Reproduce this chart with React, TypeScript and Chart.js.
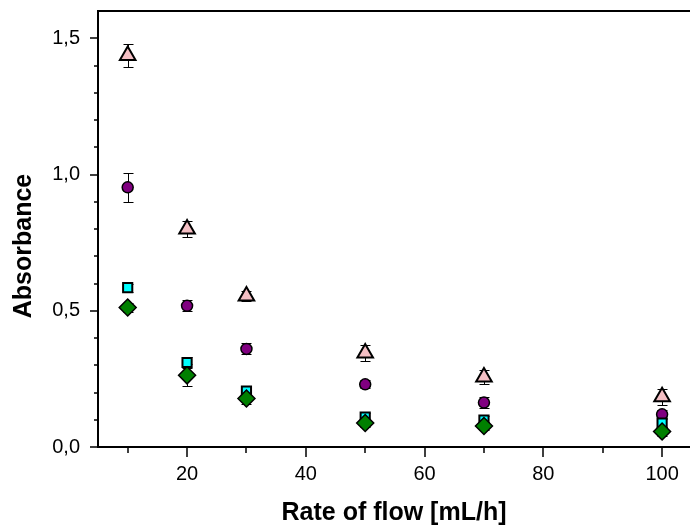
import { useEffect, useRef } from "react";
import { Chart, registerables } from "chart.js";

Chart.register(...registerables);

// ---- data ----
const flowRates = [10, 20, 30, 50, 70, 100];

const triangleValues = [1.437, 0.8, 0.554, 0.345, 0.257, 0.184];
const triangleErrors = [0.042, 0.03, 0.02, 0.03, 0.025, 0.03];

const circleValues = [0.953, 0.518, 0.36, 0.23, 0.163, 0.12];
const circleErrors = [0.053, 0.02, 0.02, 0.015, 0.02, 0.015];

const squareValues = [0.585, 0.31, 0.205, 0.11, 0.099, 0.088];
const squareErrors = [0.015, 0.02, 0.015, 0.015, 0.015, 0.015];

const diamondValues = [0.512, 0.263, 0.178, 0.088, 0.077, 0.057];
const diamondErrors = [0.015, 0.04, 0.02, 0.015, 0.015, 0.015];

const xMajorTicks = [20, 40, 60, 80, 100];
const xMinorTicks = [10, 30, 50, 70, 90];
const yMajorTicks = [0, 0.5, 1.0, 1.5];
const yMinorTicks = [0.1, 0.2, 0.3, 0.4, 0.6, 0.7, 0.8, 0.9, 1.1, 1.2, 1.3, 1.4];

const xTitle = "Rate of flow [mL/h]";
const yTitle = "Absorbance";

const FONT = "'Liberation Sans', Arial, Helvetica, sans-serif";

const errorBarPlugin = {
  id: "errorBars",
  beforeDatasetsDraw(chart: any) {
    const ctx = chart.ctx;
    const ys = chart.scales.y;
    ctx.save();
    ctx.strokeStyle = "#000";
    ctx.lineWidth = 1;
    chart.data.datasets.forEach((ds: any, i: number) => {
      const meta = chart.getDatasetMeta(i);
      const errs: number[] = ds.errors || [];
      meta.data.forEach((pt: any, j: number) => {
        const v = ds.data[j].y;
        const e = errs[j] || 0;
        const x = Math.round(pt.x) + 0.5;
        const y1 = Math.round(ys.getPixelForValue(v + e)) + 0.5;
        const y2 = Math.round(ys.getPixelForValue(v - e)) + 0.5;
        ctx.beginPath();
        ctx.moveTo(x, y1);
        ctx.lineTo(x, y2);
        ctx.moveTo(x - 5, y1);
        ctx.lineTo(x + 5, y1);
        ctx.moveTo(x - 5, y2);
        ctx.lineTo(x + 5, y2);
        ctx.stroke();
      });
    });
    ctx.restore();
  },
};

const axesPlugin = {
  id: "axesDecor",
  afterDraw(chart: any) {
    const ctx = chart.ctx;
    const xs = chart.scales.x;
    const ys = chart.scales.y;
    const { left, right, top, bottom } = chart.chartArea;
    ctx.save();
    ctx.strokeStyle = "#000";
    ctx.lineWidth = 2;
    // top frame line
    ctx.beginPath();
    ctx.moveTo(left - 1, top);
    ctx.lineTo(right, top);
    ctx.stroke();
    ctx.lineWidth = 1.5;
    ctx.beginPath();
    xMajorTicks.forEach((v) => {
      const p = Math.round(xs.getPixelForValue(v));
      ctx.moveTo(p, bottom);
      ctx.lineTo(p, bottom + 10);
    });
    xMinorTicks.forEach((v) => {
      const p = Math.round(xs.getPixelForValue(v));
      ctx.moveTo(p, bottom);
      ctx.lineTo(p, bottom + 6);
    });
    yMajorTicks.forEach((v) => {
      const p = Math.round(ys.getPixelForValue(v));
      ctx.moveTo(left - 8, p);
      ctx.lineTo(left, p);
    });
    yMinorTicks.forEach((v) => {
      const p = Math.round(ys.getPixelForValue(v));
      ctx.moveTo(left - 4, p);
      ctx.lineTo(left, p);
    });
    ctx.stroke();
    // y axis title
    ctx.fillStyle = "#000";
    ctx.font = `bold 25px ${FONT}`;
    ctx.textAlign = "center";
    ctx.textBaseline = "middle";
    ctx.translate(24, (top + bottom) / 2 + 17);
    ctx.rotate(-Math.PI / 2);
    ctx.fillText(yTitle, 0, 0);
    ctx.restore();
  },
};

function zeroPadding(scale: any) {
  scale.paddingTop = 0;
  scale.paddingBottom = 0;
  scale.paddingLeft = 0;
  scale.paddingRight = 0;
}

function toPoints(values: number[]) {
  return values.map((v, i) => ({ x: flowRates[i], y: v }));
}

export default function App() {
  const canvasRef = useRef<HTMLCanvasElement | null>(null);

  useEffect(() => {
    const canvas = canvasRef.current;
    if (!canvas) return;
    const chart = new Chart(canvas, {
      type: "scatter",
      data: {
        datasets: [
          {
            label: "diamond",
            data: toPoints(diamondValues),
            errors: diamondErrors,
            pointStyle: "rectRot",
            pointRadius: 8.5,
            pointBackgroundColor: "#008000",
            pointBorderColor: "#000",
            pointBorderWidth: 1.5,
          } as any,
          {
            label: "square",
            data: toPoints(squareValues),
            errors: squareErrors,
            pointStyle: "rect",
            pointRadius: 6.5,
            pointBackgroundColor: "#00FFFF",
            pointBorderColor: "#000",
            pointBorderWidth: 2,
          } as any,
          {
            label: "circle",
            data: toPoints(circleValues),
            errors: circleErrors,
            pointStyle: "circle",
            pointRadius: 5.5,
            pointBackgroundColor: "#800080",
            pointBorderColor: "#000",
            pointBorderWidth: 1.5,
          } as any,
          {
            label: "triangle",
            data: toPoints(triangleValues),
            errors: triangleErrors,
            pointStyle: "triangle",
            pointRadius: 9,
            pointBackgroundColor: "#F4BFC4",
            pointBorderColor: "#000",
            pointBorderWidth: 2,
          } as any,
        ],
      },
      options: {
        responsive: false,
        animation: false,
        layout: { autoPadding: false, padding: { top: 11, right: 0, left: 0, bottom: 0 } },
        plugins: {
          legend: { display: false },
          tooltip: { enabled: false },
        },
        scales: {
          x: {
            type: "linear",
            min: 5,
            max: 104.7,
            grid: { display: false },
            border: { display: true, color: "#000", width: 2 },
            afterBuildTicks: (scale: any) => {
              scale.ticks = xMajorTicks.map((v) => ({ value: v }));
            },
            afterFit: (scale: any) => {
              scale.height = 81;
              zeroPadding(scale);
            },
            ticks: {
              color: "#000",
              padding: 7.5,
              maxRotation: 0,
              font: { family: FONT, size: 20 },
              callback: (v: any) => String(v),
            },
            title: {
              display: true,
              text: xTitle,
              color: "#000",
              padding: { top: 0, bottom: 0 },
              font: { family: FONT, size: 25, weight: "bold" },
            },
          },
          y: {
            type: "linear",
            min: 0,
            max: 1.6,
            grid: { display: false },
            border: { display: true, color: "#000", width: 2 },
            afterBuildTicks: (scale: any) => {
              scale.ticks = yMajorTicks.map((v) => ({ value: v }));
            },
            afterFit: (scale: any) => {
              scale.width = 98;
              zeroPadding(scale);
            },
            ticks: {
              color: "#000",
              padding: 10,
              font: { family: FONT, size: 20 },
              callback: (v: any) => Number(v).toFixed(1).replace(".", ","),
            },
          },
        },
      } as any,
      plugins: [errorBarPlugin, axesPlugin],
    });
    return () => chart.destroy();
  }, []);

  return (
    <div style={{ position: "absolute", left: 0, top: 0, width: 690, height: 528, background: "#fff" }}>
      <canvas ref={canvasRef} width={690} height={528} style={{ display: "block" }} />
    </div>
  );
}
